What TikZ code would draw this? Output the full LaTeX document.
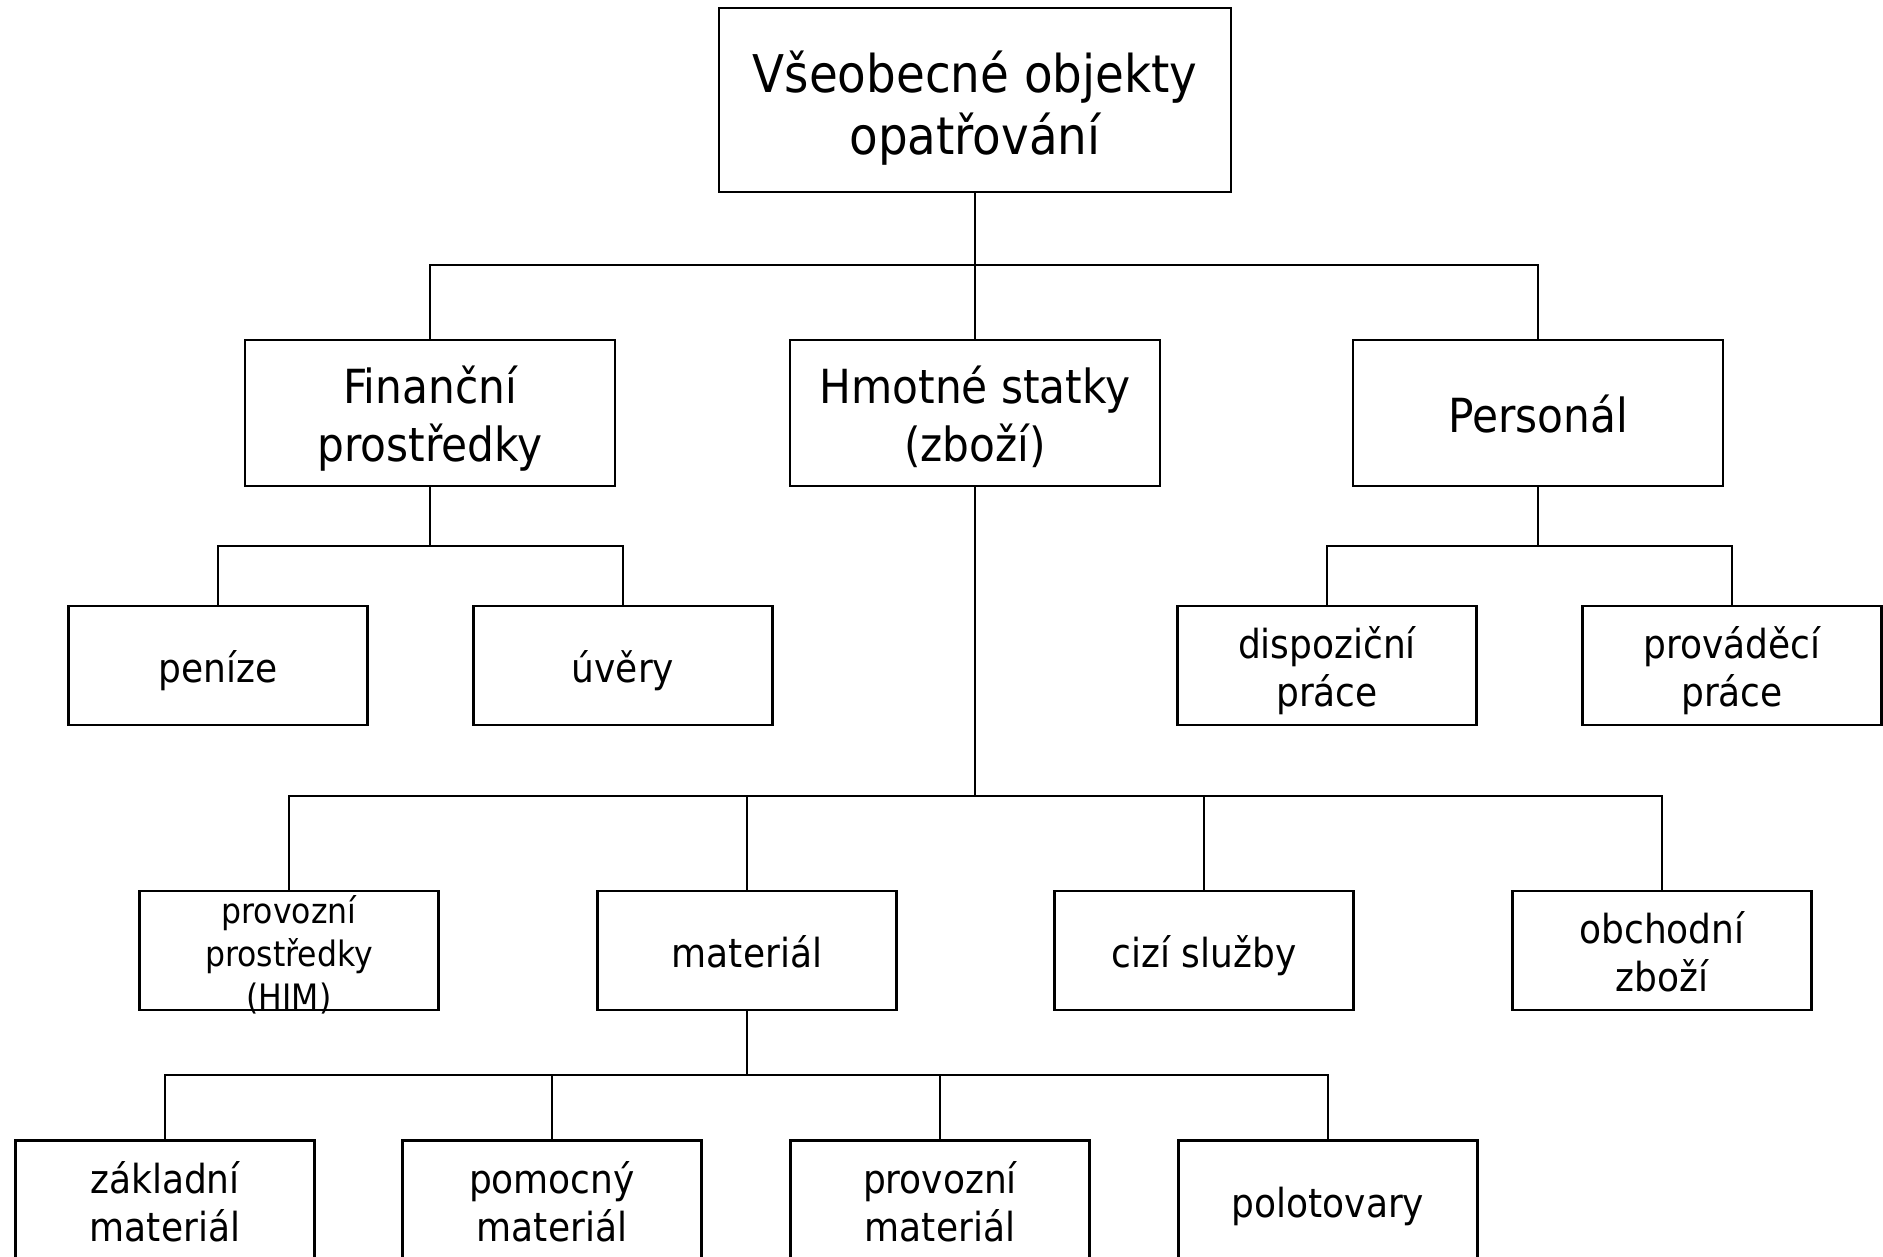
\documentclass[tikz,border=0pt]{standalone}
\usepackage{fontspec}
\setmainfont{DejaVu Sans Condensed}
\newcommand\Lstr{\rule[-0.21em]{0pt}{1em}}
\begin{document}
\begin{tikzpicture}[x=1pt,y=-1pt,
  box/.style={draw, line width=2.6pt, inner sep=0pt, minimum width=299pt, minimum height=119pt},
  lab/.style={align=center, inner sep=0pt, yshift=-5.5pt},
  fA/.style={font=\fontsize{52}{62}\selectfont, yshift=-3pt},
  fB/.style={font=\fontsize{47}{58}\selectfont},
  fC/.style={font=\fontsize{40}{48}\selectfont},
  fD/.style={font=\fontsize{35}{43}\selectfont},
  conn/.style={line width=2.6pt}]
\useasboundingbox (0,0) rectangle (1883,1257);
% level 1
\node[box, minimum width=512pt, minimum height=184pt, label={[lab,fA]center:{\Lstr Všeobecné objekty\\\Lstr opatřování}}] (top) at (975,100) {};
% level 2
\node[box, minimum width=370pt, minimum height=146pt, label={[lab,fB]center:{\Lstr Finanční\\\Lstr prostředky}}] (fin) at (430,413) {};
\node[box, minimum width=370pt, minimum height=146pt, label={[lab,fB]center:{\Lstr Hmotné statky\\\Lstr (zboží)}}] (hmo) at (975,413) {};
\node[box, minimum width=370pt, minimum height=146pt, label={[lab,fB]center:{\Lstr Personál}}] (per) at (1538,413) {};
% level 3
\node[box, label={[lab,fC]center:{\Lstr peníze}}] (pen) at (218,665.5) {};
\node[box, label={[lab,fC]center:{\Lstr úvěry}}] (uve) at (623,665.5) {};
\node[box, label={[lab,fC]center:{\Lstr dispoziční\\\Lstr práce}}] (dis) at (1327,665.5) {};
\node[box, label={[lab,fC]center:{\Lstr prováděcí\\\Lstr práce}}] (pro) at (1732,665.5) {};
% level 4
\node[box, label={[lab,fD]center:{\Lstr provozní\\\Lstr prostředky\\\Lstr (HIM)}}] (him) at (289,950.5) {};
\node[box, label={[lab,fC]center:{\Lstr materiál}}] (mat) at (747,950.5) {};
\node[box, label={[lab,fC]center:{\Lstr cizí služby}}] (ciz) at (1204,950.5) {};
\node[box, label={[lab,fC]center:{\Lstr obchodní\\\Lstr zboží}}] (obc) at (1662,950.5) {};
% level 5
\node[box, label={[lab,fC]center:{\Lstr základní\\\Lstr materiál}}] (zak) at (165,1200) {};
\node[box, label={[lab,fC]center:{\Lstr pomocný\\\Lstr materiál}}] (pom) at (552,1200) {};
\node[box, label={[lab,fC]center:{\Lstr provozní\\\Lstr materiál}}] (prm) at (940,1200) {};
\node[box, label={[lab,fC]center:{\Lstr polotovary}}] (pol) at (1328,1200) {};
% junctions
\coordinate (j1) at (975,265);
\coordinate (j2) at (430,546);
\coordinate (j3) at (1538,546);
\coordinate (j4) at (975,796);
\coordinate (j5) at (747,1075);
% connectors
\draw[conn] (top.south) -- (hmo.north);
\draw[conn] (fin.north) |- (j1) -| (per.north);
\draw[conn] (fin.south) -- (j2);
\draw[conn] (pen.north) |- (j2) -| (uve.north);
\draw[conn] (per.south) -- (j3);
\draw[conn] (dis.north) |- (j3) -| (pro.north);
\draw[conn] (hmo.south) -- (j4);
\draw[conn] (him.north) |- (j4) -| (obc.north);
\draw[conn] (mat.north) |- (j4);
\draw[conn] (ciz.north) |- (j4);
\draw[conn] (mat.south) -- (j5);
\draw[conn] (zak.north) |- (j5) -| (pol.north);
\draw[conn] (pom.north) |- (j5);
\draw[conn] (prm.north) |- (j5);
\end{tikzpicture}
\end{document}
